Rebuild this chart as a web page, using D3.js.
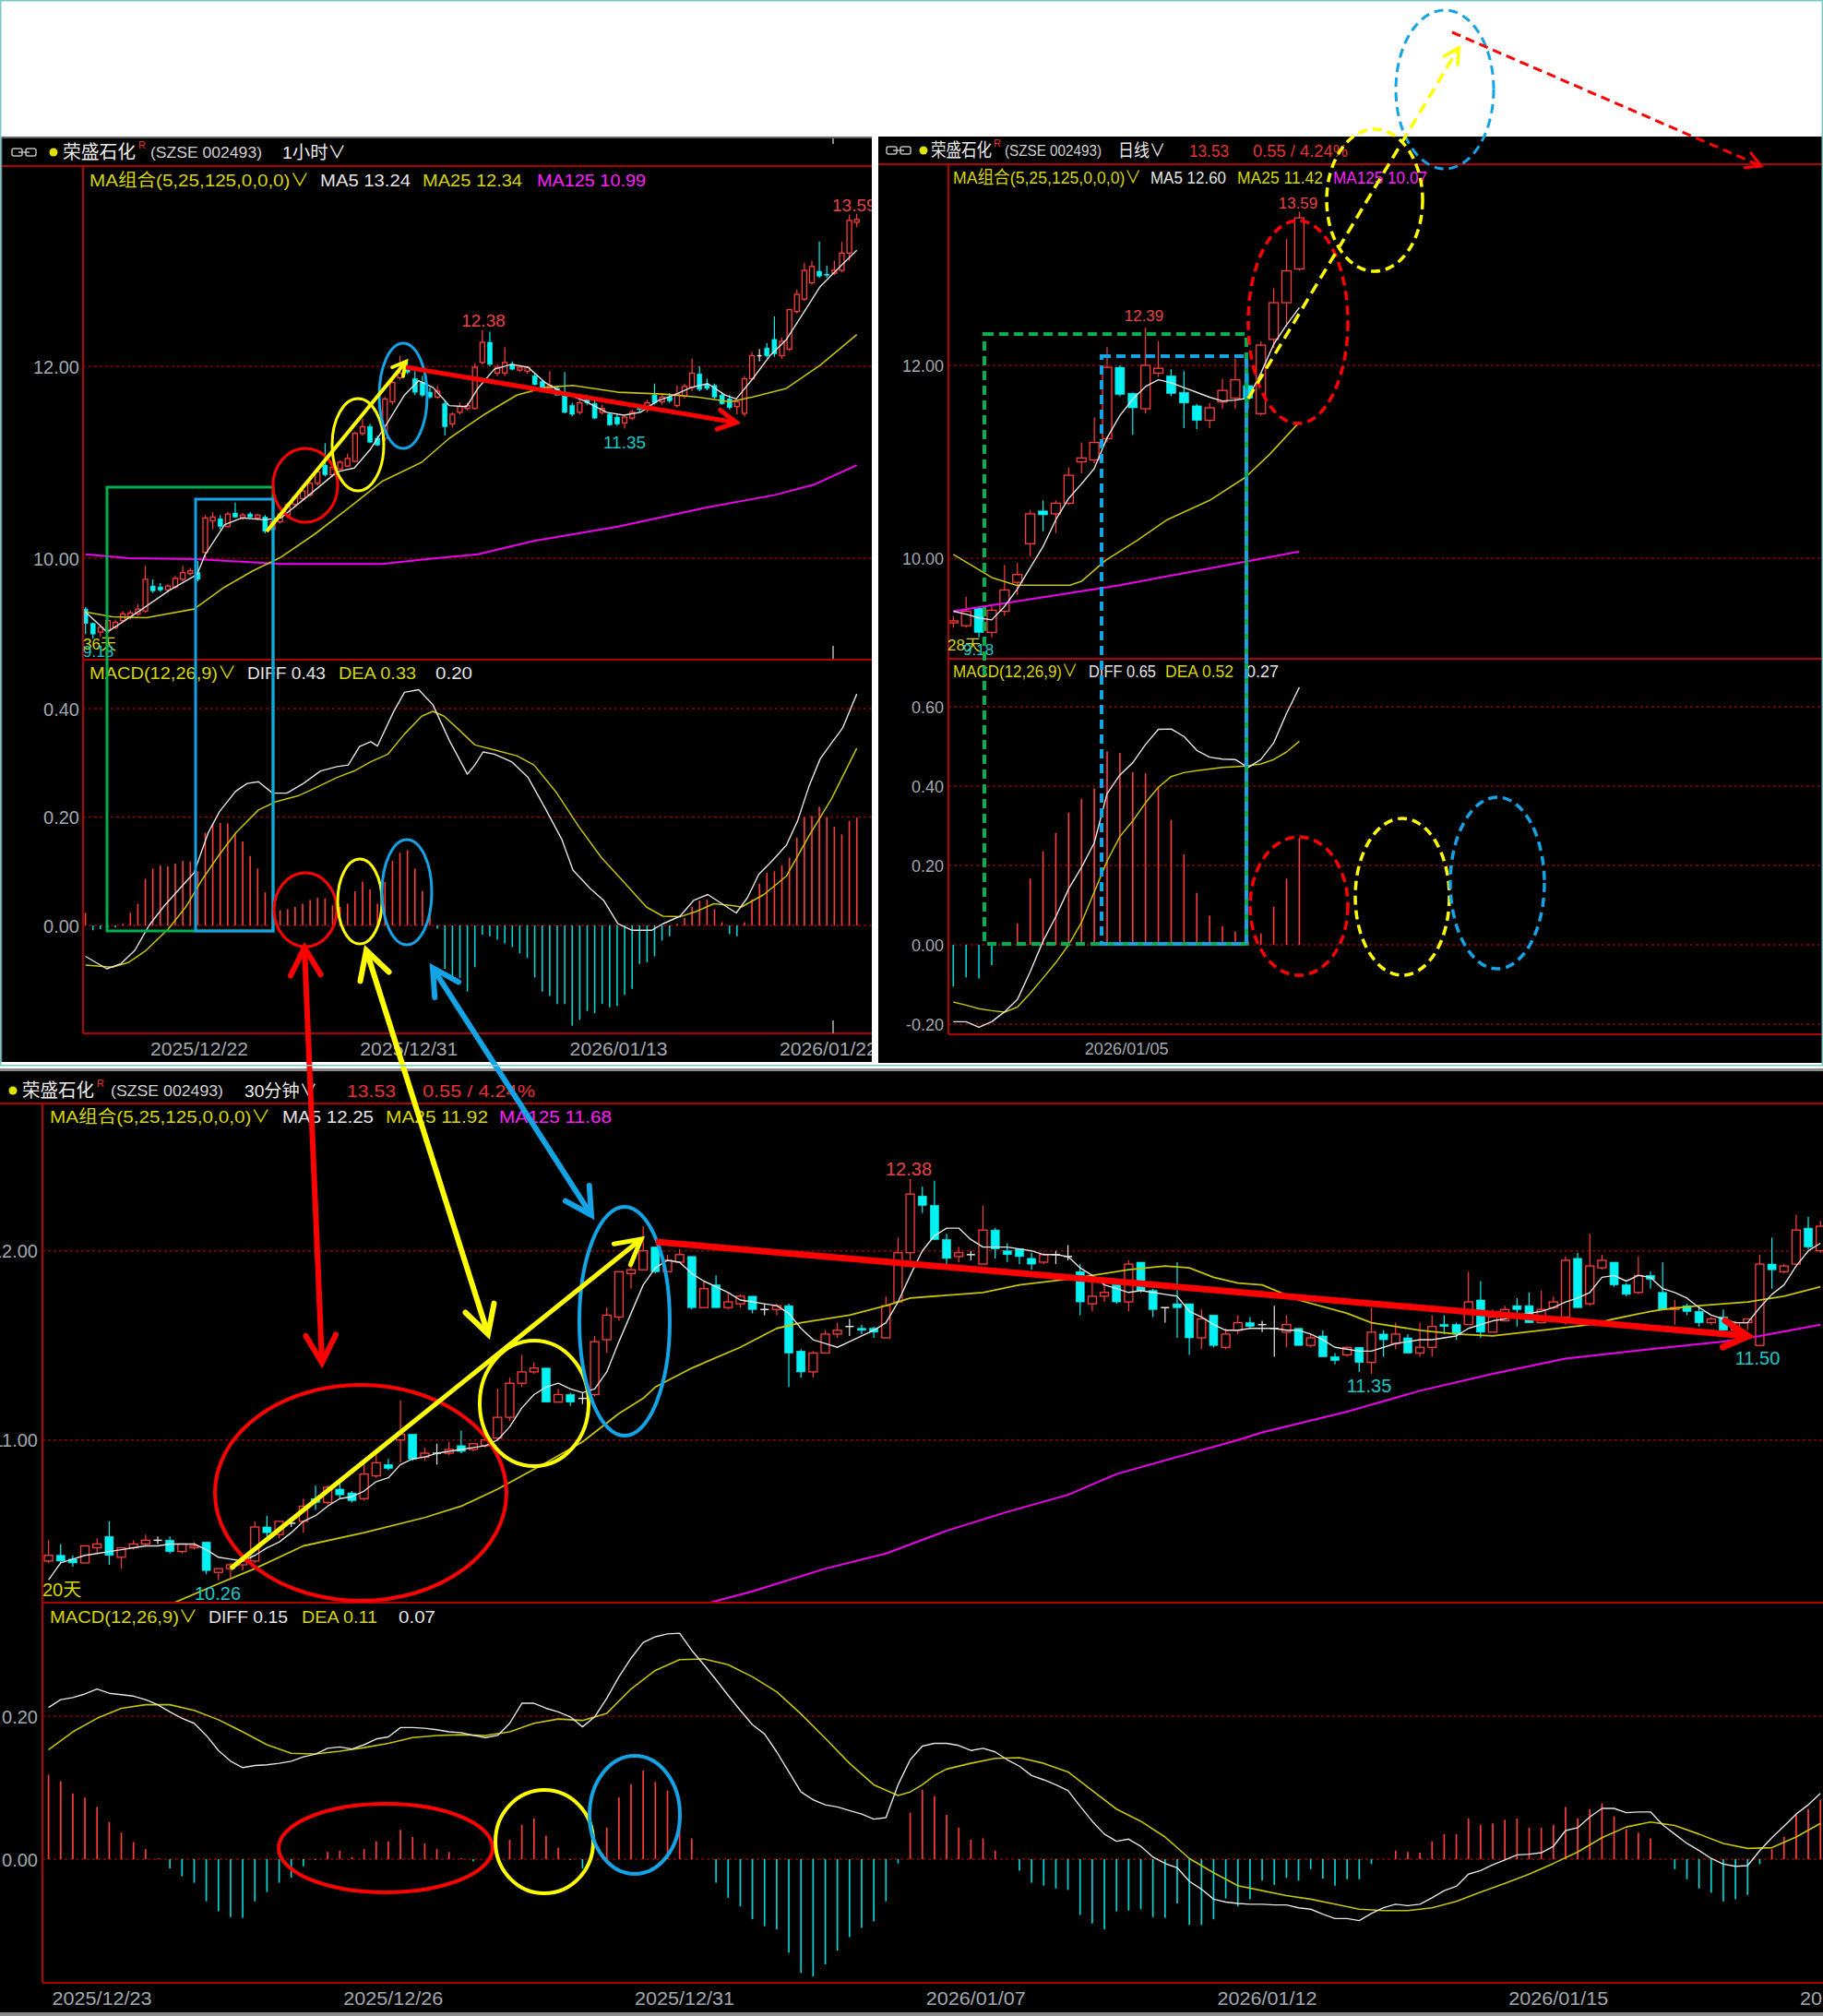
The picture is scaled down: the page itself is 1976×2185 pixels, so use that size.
<!DOCTYPE html>
<html><head><meta charset="utf-8">
<script src="https://cdn.jsdelivr.net/npm/d3@7"></script>
<style>body{margin:0;background:#fff}svg{display:block}</style>
</head><body><script>
// ================= DATA =================
// ---- 1-hour chart (top-left) : [open, high, low, close]
const h1Candles = [
[9.47,9.49,9.21,9.32],[9.32,9.33,9.16,9.21],[9.23,9.30,9.18,9.28],[9.25,9.37,9.22,9.35],[9.28,9.36,9.26,9.33],
[9.35,9.45,9.33,9.42],[9.38,9.46,9.36,9.43],[9.42,9.52,9.40,9.47],[9.45,9.92,9.43,9.78],[9.71,9.78,9.64,9.66],
[9.70,9.74,9.65,9.67],[9.67,9.73,9.64,9.71],[9.70,9.82,9.68,9.79],[9.78,9.92,9.76,9.85],[9.84,9.90,9.82,9.87],
[9.85,9.97,9.76,9.78],[10.06,10.45,10.00,10.42],[10.39,10.48,10.30,10.43],[10.41,10.45,10.30,10.33],[10.33,10.48,10.32,10.46],
[10.47,10.58,10.42,10.43],[10.42,10.47,10.40,10.45],[10.46,10.48,10.42,10.43],[10.42,10.46,10.40,10.45],[10.43,10.45,10.26,10.28],
[10.30,10.40,10.27,10.38],[10.38,10.48,10.36,10.46],[10.45,10.58,10.44,10.56],[10.56,10.66,10.54,10.64],[10.62,10.72,10.60,10.70],
[10.66,10.80,10.64,10.78],[10.78,10.93,10.76,10.90],[10.97,11.20,10.85,10.87],[10.87,10.97,10.85,10.95],[10.93,11.02,10.92,11.00],
[10.96,11.09,10.95,11.04],[11.01,11.32,11.00,11.30],[11.30,11.45,11.28,11.37],[11.37,11.40,11.20,11.21],[11.25,11.28,11.17,11.18],
[11.25,11.68,11.22,11.66],[11.63,11.85,11.60,11.83],[11.88,12.11,11.86,11.93],[11.99,12.05,11.92,11.94],[11.87,11.95,11.70,11.73],
[11.83,11.90,11.68,11.70],[11.73,11.78,11.66,11.68],[11.68,11.80,11.66,11.74],[11.61,11.65,11.28,11.37],[11.40,11.52,11.36,11.50],
[11.52,11.62,11.50,11.58],[11.56,11.62,11.54,11.59],[11.56,12.03,11.55,11.99],[12.04,12.38,12.02,12.25],[12.25,12.36,12.00,12.02],
[11.93,12.02,11.90,11.99],[11.93,12.20,11.90,12.04],[12.02,12.05,11.96,11.97],[11.96,12.00,11.94,11.99],[11.95,12.00,11.92,11.99],
[11.90,11.93,11.80,11.81],[11.84,11.86,11.76,11.77],[11.77,11.95,11.76,11.80],[11.77,11.80,11.70,11.70],[11.73,11.94,11.51,11.52],
[11.59,11.62,11.48,11.50],[11.52,11.65,11.50,11.62],[11.66,11.70,11.60,11.62],[11.61,11.68,11.45,11.46],[11.52,11.60,11.50,11.56],
[11.50,11.52,11.38,11.39],[11.47,11.50,11.38,11.40],[11.41,11.48,11.35,11.47],[11.46,11.55,11.44,11.52],[11.58,11.60,11.52,11.55],
[11.55,11.65,11.52,11.62],[11.70,11.82,11.60,11.62],[11.63,11.72,11.60,11.68],[11.68,11.72,11.62,11.64],[11.59,11.80,11.57,11.71],
[11.69,11.82,11.66,11.79],[11.78,12.08,11.74,11.93],[11.92,12.00,11.74,11.76],[11.81,11.87,11.75,11.77],[11.80,11.82,11.66,11.68],
[11.70,11.73,11.60,11.61],[11.66,11.70,11.55,11.57],[11.58,11.64,11.50,11.63],[11.51,11.90,11.48,11.87],[11.87,12.15,11.86,12.11],
[12.11,12.18,12.05,12.11],[12.19,12.24,12.09,12.11],[12.28,12.52,12.10,12.13],[12.11,12.30,12.08,12.26],[12.18,12.60,12.16,12.59],
[12.57,12.80,12.55,12.75],[12.70,13.08,12.68,13.00],[12.87,13.10,12.85,13.04],[12.99,13.30,12.92,12.94],[12.96,13.05,12.92,12.95],
[12.97,13.10,12.95,13.00],[13.00,13.30,12.98,13.18],[13.18,13.58,13.10,13.52],[13.50,13.59,13.45,13.53]
];
// [bar, value]
const h1MA5 = [[0,9.44],[2.9,9.23],[7.4,9.46],[11.1,9.66],[14.9,9.83],[16,10.04],[18.6,10.35],[20.9,10.42],[23.9,10.40],[26.1,10.42],[29.9,10.66],[33.6,10.90],[35.9,10.94],[38.1,11.14],[40.4,11.42],[42.6,11.70],[44.5,11.85],[46.4,11.78],[48.6,11.59],[50.9,11.58],[52.4,11.77],[54.6,11.97],[56.9,12.02],[59.1,11.99],[61.4,11.83],[63.6,11.73],[66.6,11.64],[69.6,11.52],[71.9,11.49],[74.1,11.52],[76.4,11.64],[78.6,11.70],[80.9,11.78],[83.1,11.82],[85.4,11.70],[86.9,11.66],[89.1,11.87],[91.4,12.11],[93.6,12.28],[95.9,12.56],[98.1,12.83],[100.4,13.01],[103,13.21]];
const h1MA25 = [[0,9.44],[3.6,9.39],[8.1,9.38],[14.5,9.47],[18.6,9.70],[22.4,9.87],[26.1,10.01],[30.6,10.25],[35.1,10.52],[39.6,10.80],[44.9,11.00],[48.6,11.25],[53.1,11.49],[57.6,11.70],[61.4,11.78],[65.1,11.80],[71.1,11.73],[77.1,11.71],[81.6,11.68],[86.1,11.63],[89.1,11.68],[93.6,11.77],[98.1,12.01],[103,12.33]];
const h1MA125 = [[0,10.04],[5.8,10.00],[14.9,9.99],[26.1,9.94],[39.6,9.94],[45.6,9.99],[52.4,10.04],[59.9,10.18],[71.1,10.33],[82.4,10.52],[92.1,10.66],[97.4,10.77],[103,10.97]];
const h1Hist = [
0.023,-0.009,-0.007,-0.003,-0.004,0.003,0.023,0.040,0.086,0.105,
0.111,0.109,0.114,0.119,0.118,0.100,0.171,0.188,0.189,0.188,
0.171,0.155,0.128,0.105,0.061,0.034,0.028,0.030,0.034,0.040,
0.047,0.051,0.050,0.037,0.034,0.040,0.063,0.081,0.067,0.040,
0.080,0.119,0.134,0.139,0.105,0.064,0.020,-0.006,-0.080,-0.100,
-0.097,-0.122,-0.077,-0.017,-0.020,-0.026,-0.033,-0.040,-0.051,-0.060,
-0.096,-0.122,-0.130,-0.145,-0.145,-0.185,-0.174,-0.158,-0.162,-0.145,
-0.151,-0.148,-0.128,-0.117,-0.071,-0.068,-0.057,-0.028,-0.020,0.003,
0.014,0.034,0.046,0.047,0.030,0.006,-0.016,-0.020,0.006,0.048,
0.077,0.097,0.100,0.111,0.125,0.162,0.199,0.202,0.219,0.199,
0.182,0.168,0.193,0.199];
const h1Diff = [[0,-0.057],[2.85,-0.08],[4.7,-0.071],[6.6,-0.046],[8.5,0],[10.4,0.034],[12.6,0.068],[14.5,0.097],[16.4,0.171],[17.9,0.21],[20.1,0.248],[21.6,0.262],[23.1,0.265],[25,0.244],[26.9,0.244],[29.1,0.262],[31.4,0.285],[33.6,0.293],[35.1,0.296],[36.6,0.33],[38.1,0.339],[39,0.331],[41.1,0.393],[42.6,0.43],[44.5,0.435],[46.4,0.407],[48.6,0.341],[51,0.279],[52,0.296],[53.1,0.32],[54.6,0.316],[56.9,0.302],[59.1,0.273],[61.4,0.216],[63.6,0.159],[65.1,0.102],[67.4,0.068],[69.2,0.046],[71.1,0.003],[73,-0.009],[75.6,-0.009],[77.1,0.003],[79.4,0.017],[81.2,0.046],[83.1,0.057],[85,0.04],[86.9,0.023],[88.4,0.051],[89.9,0.094],[91.7,0.119],[93.6,0.148],[95.1,0.193],[96.6,0.256],[98.1,0.307],[99.6,0.336],[101.1,0.364],[103,0.427]];
const h1Dea = [[0,-0.073],[3.6,-0.077],[5.8,-0.068],[8.1,-0.046],[11.1,-0.006],[13.4,0.034],[15.6,0.085],[17.9,0.131],[20.1,0.171],[23.1,0.213],[25.4,0.228],[28.4,0.239],[30.6,0.253],[33.6,0.273],[35.9,0.285],[38.1,0.302],[40.4,0.316],[42.6,0.353],[44.9,0.386],[46.4,0.395],[47.9,0.386],[50.1,0.358],[52,0.333],[54.6,0.324],[57.6,0.313],[59.9,0.296],[62.9,0.245],[65.9,0.182],[68.9,0.125],[71.9,0.08],[74.9,0.034],[77.1,0.017],[79.4,0.016],[81.6,0.026],[83.9,0.04],[86.1,0.037],[87.6,0.034],[90.6,0.057],[93.6,0.091],[96.6,0.165],[99.6,0.233],[103,0.327]];
const h1TickIdx = [8, 36, 64, 92];
const h1TickLabels = ['2025/12/22', '2025/12/31', '2026/01/13', '2026/01/22'];
const h1PriceTicks = [10, 12];
const h1MacdTicks = [0, 0.2, 0.4];

// ---- Daily chart (top-right)
const dCandles = [
[9.33,9.40,9.28,9.35],[9.30,9.60,9.28,9.45],[9.48,9.50,9.18,9.23],[9.23,9.50,9.18,9.46],[9.45,9.93,9.40,9.67],
[9.75,9.95,9.62,9.83],[10.15,10.50,10.02,10.46],[10.49,10.60,10.28,10.45],[10.46,10.60,10.26,10.57],[10.57,10.94,10.55,10.86],
[11.00,11.20,10.88,11.04],[11.02,11.46,10.98,11.20],[11.24,12.19,11.20,11.98],[11.98,12.00,11.68,11.70],[11.71,11.72,11.28,11.56],
[11.55,12.39,11.50,12.00],[11.92,12.25,11.88,11.97],[11.89,11.96,11.68,11.71],[11.72,11.94,11.35,11.61],[11.58,11.60,11.34,11.43],
[11.43,11.61,11.35,11.56],[11.62,11.86,11.55,11.74],[11.66,12.07,11.55,11.85],[11.79,11.92,11.55,11.66],[11.50,12.25,11.48,12.21],
[12.27,12.80,12.18,12.65],[12.65,13.31,12.40,12.98],[13.00,13.59,12.98,13.53]
];
const dMA5 = [9.45,9.42,9.38,9.36,9.50,9.68,9.90,10.12,10.40,10.62,10.77,10.93,11.25,11.48,11.65,11.78,11.85,11.82,11.77,11.72,11.67,11.63,11.64,11.66,11.92,12.22,12.42,12.60];
const dMA25 = [[0,10.04],[3,9.80],[4.9,9.72],[9.1,9.72],[10,9.76],[11.9,9.98],[14.3,10.18],[16.7,10.40],[20,10.60],[22.8,10.84],[24.7,11.08],[27,11.41]];
const dMA125 = [[0,9.45],[13,9.72],[27,10.07]];
const dHist = [-0.105,-0.082,-0.085,-0.051,0,0.054,0.167,0.236,0.282,0.333,0.368,0.394,0.487,0.484,0.435,0.432,0.399,0.315,0.228,0.131,0.074,0.047,0.034,0.010,0.029,0.096,0.167,0.269];
const dDiff = [-0.194,-0.194,-0.208,-0.194,-0.169,-0.138,-0.068,0.009,0.071,0.141,0.195,0.257,0.381,0.428,0.459,0.505,0.543,0.544,0.525,0.490,0.473,0.468,0.467,0.447,0.467,0.509,0.583,0.649];
const dDea = [-0.144,-0.152,-0.161,-0.166,-0.170,-0.157,-0.122,-0.084,-0.045,0.000,0.056,0.133,0.211,0.273,0.312,0.358,0.397,0.424,0.434,0.439,0.443,0.447,0.449,0.451,0.456,0.467,0.486,0.513];
const dTickIdx = [10];
const dTickLabels = ['2026/01/05'];
const dPriceTicks = [10, 12];
const dMacdTicks = [-0.2, 0, 0.2, 0.4, 0.6];

// ---- 30-minute chart (bottom)
const m30Candles = [
[10.36,10.47,10.35,10.39],[10.39,10.45,10.35,10.36],[10.37,10.39,10.33,10.35],[10.35,10.44,10.35,10.44],[10.43,10.48,10.40,10.45],
[10.49,10.57,10.34,10.39],[10.38,10.43,10.32,10.43],[10.43,10.47,10.42,10.45],[10.45,10.50,10.44,10.47],[10.47,10.49,10.45,10.47],
[10.47,10.49,10.40,10.41],[10.41,10.45,10.40,10.45],[10.43,10.46,10.42,10.44],[10.46,10.46,10.29,10.31],[10.30,10.32,10.26,10.32],
[10.32,10.35,10.27,10.34],[10.34,10.37,10.31,10.36],[10.36,10.57,10.35,10.54],[10.54,10.60,10.49,10.51],[10.50,10.57,10.48,10.57],
[10.56,10.57,10.54,10.56],[10.57,10.69,10.51,10.65],[10.69,10.76,10.63,10.67],[10.67,10.76,10.66,10.75],[10.74,10.77,10.69,10.71],
[10.72,10.73,10.67,10.68],[10.69,10.87,10.68,10.82],[10.81,10.92,10.80,10.88],[10.87,10.90,10.84,10.85],[11.00,11.21,10.88,11.03],
[11.03,11.03,10.89,10.90],[10.91,10.96,10.89,10.93],[10.93,10.98,10.87,10.93],[10.93,10.99,10.92,10.95],[10.97,11.05,10.93,10.94],
[10.95,10.98,10.94,10.98],[10.97,11.01,10.96,11.00],[11.01,11.27,11.00,11.12],[11.12,11.33,11.10,11.30],[11.30,11.45,11.28,11.36],
[11.36,11.41,11.35,11.38],[11.38,11.38,11.20,11.20],[11.20,11.27,11.20,11.24],[11.24,11.25,11.18,11.20],[11.22,11.25,11.19,11.22],
[11.24,11.55,11.23,11.52],[11.53,11.70,11.46,11.66],[11.65,11.89,11.63,11.89],[11.88,11.94,11.80,11.90],[11.90,12.13,11.90,12.00],
[12.02,12.02,11.88,11.89],[11.89,11.98,11.89,11.95],[11.94,12.01,11.94,11.98],[11.97,11.97,11.69,11.70],[11.70,11.84,11.70,11.80],
[11.82,11.87,11.70,11.70],[11.70,11.78,11.69,11.73],[11.72,11.77,11.70,11.76],[11.76,11.76,11.67,11.69],[11.69,11.72,11.66,11.69],
[11.69,11.72,11.66,11.71],[11.71,11.72,11.28,11.46],[11.47,11.48,11.33,11.36],[11.36,11.47,11.33,11.46],[11.46,11.58,11.46,11.56],
[11.56,11.62,11.54,11.58],[11.60,11.64,11.55,11.60],[11.59,11.61,11.56,11.58],[11.59,11.60,11.54,11.57],[11.54,11.76,11.54,11.71],
[11.73,12.07,11.73,11.99],[11.99,12.38,11.95,12.30],[12.29,12.34,12.20,12.24],[12.24,12.37,12.06,12.06],[12.06,12.09,11.93,11.96],
[11.97,12.02,11.94,11.99],[11.98,12.00,11.95,11.98],[11.93,12.24,11.93,12.11],[12.11,12.12,11.96,12.01],[12.00,12.04,11.94,11.98],
[12.01,12.01,11.93,11.97],[11.96,11.99,11.90,11.93],[11.94,11.99,11.93,11.98],[11.98,12.00,11.93,11.98],[11.97,12.03,11.95,11.97],
[11.89,11.93,11.66,11.73],[11.72,11.84,11.68,11.76],[11.76,11.83,11.73,11.78],[11.82,11.82,11.72,11.73],[11.73,11.95,11.68,11.93],
[11.94,11.94,11.78,11.79],[11.79,11.80,11.65,11.69],[11.70,11.70,11.62,11.70],[11.72,11.94,11.54,11.70],[11.72,11.72,11.45,11.54],
[11.54,11.69,11.48,11.64],[11.66,11.66,11.49,11.50],[11.49,11.59,11.48,11.56],[11.58,11.66,11.56,11.62],[11.62,11.65,11.59,11.60],
[11.61,11.63,11.57,11.61],[11.59,11.71,11.44,11.59],[11.57,11.66,11.49,11.61],[11.59,11.59,11.50,11.50],[11.50,11.56,11.49,11.54],
[11.55,11.58,11.44,11.44],[11.44,11.46,11.40,11.42],[11.45,11.49,11.44,11.49],[11.49,11.49,11.36,11.41],[11.41,11.70,11.35,11.57],
[11.56,11.58,11.44,11.53],[11.51,11.62,11.48,11.56],[11.54,11.56,11.46,11.46],[11.46,11.62,11.44,11.49],[11.49,11.66,11.44,11.60],
[11.61,11.66,11.56,11.60],[11.61,11.62,11.53,11.56],[11.61,11.89,11.61,11.73],[11.74,11.84,11.54,11.57],[11.57,11.69,11.57,11.65],
[11.63,11.71,11.63,11.69],[11.71,11.75,11.60,11.69],[11.71,11.78,11.62,11.62],[11.62,11.79,11.62,11.69],[11.70,11.76,11.69,11.73],
[11.65,11.97,11.61,11.95],[11.96,11.99,11.70,11.70],[11.72,12.09,11.71,11.92],[11.91,11.98,11.90,11.95],[11.94,11.94,11.81,11.82],
[11.82,11.83,11.76,11.77],[11.78,11.97,11.77,11.87],[11.87,11.89,11.80,11.85],[11.78,11.94,11.69,11.69],[11.69,11.74,11.61,11.70],
[11.71,11.72,11.66,11.68],[11.68,11.71,11.60,11.62],[11.62,11.65,11.61,11.64],[11.65,11.69,11.58,11.58],[11.58,11.63,11.56,11.62],
[11.62,11.64,11.58,11.64],[11.50,11.98,11.50,11.93],[11.93,12.07,11.80,11.90],[11.89,11.93,11.88,11.92],[11.93,12.19,11.93,12.11],
[12.12,12.18,12.01,12.02],[12.00,12.16,11.99,12.13]
];
const m30MA5 = [
10.26,10.35,10.37,10.39,10.40,10.41,10.42,10.43,10.44,10.44,
10.45,10.45,10.45,10.42,10.38,10.37,10.36,10.39,10.43,10.46,
10.51,10.57,10.60,10.65,10.69,10.70,10.73,10.78,10.80,10.87,
10.90,10.91,10.93,10.94,10.95,10.96,10.97,11.00,11.07,11.17,
11.24,11.28,11.30,11.27,11.25,11.27,11.36,11.52,11.67,11.82,
11.91,11.95,11.94,11.88,11.84,11.81,11.78,11.74,11.73,11.72,
11.71,11.67,11.59,11.53,11.51,11.49,11.52,11.55,11.58,11.62,
11.73,11.87,12.00,12.08,12.12,12.12,12.06,12.02,12.02,12.02,
12.01,12.00,11.98,11.98,11.97,11.91,11.87,11.82,11.80,11.78,
11.79,11.78,11.77,11.76,11.68,11.65,11.61,11.58,11.58,11.59,
11.59,11.59,11.58,11.58,11.56,11.53,11.49,11.48,11.47,11.47,
11.49,11.51,11.52,11.53,11.53,11.54,11.55,11.59,11.61,11.63,
11.64,11.66,11.67,11.68,11.70,11.73,11.75,11.78,11.86,11.87,
11.84,11.87,11.86,11.80,11.78,11.75,11.70,11.66,11.64,11.62,
11.62,11.70,11.77,11.82,11.92,12.00,12.04];
const m30MA25 = [[10,10.13],[14,10.24],[17,10.32],[21,10.44],[26,10.51],[31,10.59],[34,10.65],[37,10.74],[41,10.88],[44,10.99],[47,11.14],[49,11.22],[50,11.28],[53,11.38],[57,11.49],[60,11.59],[62,11.62],[66,11.66],[69,11.71],[71,11.75],[75,11.77],[77,11.78],[80,11.82],[84,11.85],[86,11.87],[89,11.90],[92,11.92],[94,11.91],[96,11.86],[98,11.83],[100,11.82],[103,11.74],[107,11.67],[109,11.62],[113,11.58],[116,11.56],[119,11.55],[123,11.58],[127,11.61],[129,11.64],[132,11.68],[133,11.69],[136,11.71],[140,11.73],[143,11.76],[146,11.81]];
const m30MA125 = [[54.5,10.14],[58,10.20],[64,10.32],[69,10.40],[74,10.52],[79,10.62],[84,10.71],[88,10.82],[93,10.91],[98,11.00],[100,11.04],[107,11.15],[113,11.26],[119,11.35],[125,11.43],[132,11.48],[138,11.52],[141,11.55],[146,11.61]];
const m30Hist = [
0.118,0.109,0.092,0.086,0.073,0.052,0.037,0.024,0.014,0.001,
-0.013,-0.024,-0.033,-0.059,-0.073,-0.081,-0.082,-0.059,-0.046,-0.033,
-0.026,-0.010,-0.001,0.010,0.012,0.003,0.014,0.025,0.025,0.041,
0.031,0.022,0.014,0.010,0.001,-0.003,0.000,0.000,0.027,0.048,
0.057,0.033,0.016,-0.001,-0.013,0.000,0.044,0.086,0.105,0.124,
0.108,0.096,0.078,0.029,0.000,-0.033,-0.054,-0.066,-0.084,-0.094,
-0.098,-0.131,-0.159,-0.164,-0.147,-0.128,-0.109,-0.096,-0.087,-0.059,
-0.006,0.065,0.097,0.088,0.062,0.044,0.027,0.029,0.012,0.000,
-0.016,-0.033,-0.037,-0.041,-0.043,-0.078,-0.090,-0.098,-0.073,-0.072,
-0.070,-0.081,-0.082,-0.062,-0.092,-0.092,-0.084,-0.055,-0.066,-0.056,
-0.030,-0.036,-0.026,-0.030,-0.014,-0.027,-0.037,-0.028,-0.028,-0.007,
0.000,0.012,0.010,0.009,0.025,0.035,0.035,0.057,0.048,0.050,
0.055,0.057,0.044,0.044,0.048,0.073,0.057,0.070,0.078,0.060,
0.042,0.037,0.029,0.000,-0.014,-0.028,-0.041,-0.047,-0.059,-0.056,
-0.050,-0.007,0.014,0.031,0.062,0.070,0.083];
const m30Diff = [
0.212,0.223,0.226,0.231,0.238,0.232,0.230,0.228,0.223,0.216,
0.206,0.197,0.190,0.173,0.152,0.137,0.128,0.131,0.132,0.134,
0.137,0.143,0.147,0.155,0.157,0.154,0.160,0.168,0.171,0.184,
0.184,0.183,0.181,0.178,0.177,0.173,0.170,0.173,0.190,0.218,
0.218,0.211,0.206,0.199,0.185,0.199,0.225,0.255,0.281,0.303,
0.311,0.315,0.316,0.292,0.272,0.251,0.229,0.208,0.188,0.175,
0.150,0.122,0.094,0.083,0.076,0.073,0.068,0.063,0.056,0.058,
0.104,0.139,0.158,0.162,0.162,0.159,0.152,0.155,0.150,0.139,
0.130,0.117,0.111,0.104,0.096,0.074,0.053,0.035,0.025,0.028,
0.018,0.003,-0.006,-0.012,-0.031,-0.042,-0.056,-0.060,-0.062,-0.063,
-0.063,-0.064,-0.064,-0.068,-0.070,-0.077,-0.083,-0.083,-0.086,-0.076,
-0.068,-0.063,-0.065,-0.063,-0.054,-0.044,-0.038,-0.021,-0.016,-0.008,
-0.001,0.006,0.007,0.009,0.018,0.040,0.044,0.059,0.071,0.071,
0.065,0.066,0.066,0.048,0.035,0.022,0.012,0.001,-0.007,-0.010,
-0.009,0.012,0.030,0.046,0.063,0.076,0.092];
const m30Dea = [[0,0.153],[2,0.178],[4,0.197],[6,0.211],[8,0.216],[10,0.216],[12,0.208],[14,0.195],[16,0.178],[18,0.160],[20,0.148],[22,0.147],[24,0.151],[26,0.156],[28,0.162],[30,0.170],[32,0.173],[34,0.174],[36,0.173],[38,0.178],[40,0.190],[42,0.196],[44,0.194],[46,0.204],[48,0.238],[50,0.264],[52,0.279],[54,0.280],[56,0.272],[58,0.255],[60,0.234],[62,0.203],[64,0.169],[66,0.134],[68,0.104],[70,0.089],[71,0.094],[72,0.104],[73,0.117],[74,0.126],[76,0.134],[78,0.141],[80,0.142],[82,0.134],[84,0.122],[86,0.096],[88,0.070],[90,0.053],[92,0.031],[94,0.001],[96,-0.019],[98,-0.037],[100,-0.044],[102,-0.051],[104,-0.056],[106,-0.063],[108,-0.070],[110,-0.072],[112,-0.072],[114,-0.068],[116,-0.059],[118,-0.046],[120,-0.034],[122,-0.021],[124,-0.006],[126,0.010],[128,0.030],[130,0.045],[132,0.052],[134,0.047],[136,0.035],[138,0.022],[140,0.015],[142,0.016],[144,0.031],[146,0.050]];
const m30TickIdx = [0, 24, 48, 72, 96, 120, 144];
const m30TickLabels = ['2025/12/23', '2025/12/26', '2025/12/31', '2026/01/07', '2026/01/12', '2026/01/15', '2026/01/20'];
const m30PriceTicks = [11, 12];
const m30MacdTicks = [0, 0.2];

// ================= STYLE =================
const W = 1976, H = 2185;
const FONT = "'Liberation Sans', Arial, 'Noto Sans CJK SC', sans-serif";
const RED = '#ff3c3c', CYAN = '#00f2f2', CYANBAR = '#00d4d4', WHITE = '#e4e4e4', OLIVE = '#c4c400',
      MAG = '#ee00ee', GRID = '#8c0000', BORDER = '#b00000', AXT = '#a2a8ae',
      LEGY = '#d6d600', LEGM = '#ff20ff', HRED = '#e83232', LBLR = '#e84444', LBLC = '#1cc8c8',
      YEL = '#ffff00', BLUE = '#14a4e6', GREEN = '#00b050', ARED = '#ff0000';

const svg = d3.select('body').append('svg').attr('width', W).attr('height', H);
const defs = svg.append('defs');
svg.append('rect').attr('width', W).attr('height', H).attr('fill', '#fff');

function clip(id, x, y, w, h) {
  defs.append('clipPath').attr('id', id).append('rect').attr('x', x).attr('y', y).attr('width', w).attr('height', h);
  return `url(#${id})`;
}
function T(g, x, y, s, fill, size, len, anchor) {
  const t = g.append('text').attr('x', x).attr('y', y).attr('fill', fill).attr('font-size', size)
    .attr('font-family', FONT).attr('dominant-baseline', 'central').text(s);
  if (len) t.attr('textLength', len).attr('lengthAdjust', 'spacingAndGlyphs');
  if (anchor) t.attr('text-anchor', anchor);
  return t;
}
function hline(g, y, x1, x2, col, w, dash) {
  const l = g.append('line').attr('x1', x1).attr('x2', x2).attr('y1', y).attr('y2', y).attr('stroke', col).attr('stroke-width', w);
  if (dash) l.attr('stroke-dasharray', dash);
  return l;
}
function vline(g, x, y1, y2, col, w) {
  return g.append('line').attr('x1', x).attr('x2', x).attr('y1', y1).attr('y2', y2).attr('stroke', col).attr('stroke-width', w);
}
function candles(g, data, x, y, bw) {
  g.append('g').selectAll('g').data(data).join('g').each(function (d, i) {
    const [o, h, l, c] = d;
    const cx = x(i);
    const up = c > o + 0.004, down = c < o - 0.004;
    const col = up ? RED : (down ? CYAN : WHITE);
    const s = d3.select(this);
    vline(s, cx, y(h), y(l), col, 1.2);
    if (up || down) {
      const top = y(Math.max(o, c)), bot = y(Math.min(o, c));
      s.append('rect').attr('x', cx - bw / 2).attr('y', top).attr('width', bw)
        .attr('height', Math.max(1.2, bot - top))
        .attr('fill', up ? '#000' : CYAN).attr('stroke', col).attr('stroke-width', up ? 1.3 : 0.6);
    } else {
      hline(s, y(c), cx - bw / 2, cx + bw / 2, col, 1.5);
    }
  });
}
function series(g, pts, x, y, col, w) {
  g.append('path').datum(pts).attr('d', d3.line().x(d => x(d[0])).y(d => y(d[1])))
    .attr('fill', 'none').attr('stroke', col).attr('stroke-width', w).attr('stroke-linejoin', 'round');
}
const idxPts = arr => arr.map((v, i) => [i, v]);
function hist(g, data, x, y, w) {
  g.append('g').selectAll('line').data(data).join('line')
    .attr('x1', (d, i) => x(i)).attr('x2', (d, i) => x(i))
    .attr('y1', y(0)).attr('y2', d => y(d))
    .attr('stroke', d => d >= 0 ? RED : CYANBAR).attr('stroke-width', w);
}
function yLabels(g, y, ticks, xr, size) {
  const ax = d3.axisLeft(y).tickValues(ticks).tickFormat(d => d.toFixed(2)).tickSize(0).tickPadding(0);
  const a = g.append('g').attr('transform', `translate(${xr},0)`).call(ax);
  a.select('.domain').remove();
  a.selectAll('text').attr('fill', AXT).attr('font-size', size).attr('font-family', FONT).attr('dy', '0.35em');
}
function xLabels(g, x, idx, labels, yc, dx, size, len) {
  const ax = d3.axisBottom(x).tickValues(idx).tickFormat((d, i) => labels[i]).tickSize(0).tickPadding(0);
  const a = g.append('g').attr('transform', `translate(0,${yc})`).call(ax);
  a.select('.domain').remove();
  a.selectAll('text').attr('fill', AXT).attr('font-size', size).attr('font-family', FONT)
    .attr('text-anchor', 'start').attr('x', dx).attr('y', 0).attr('dy', '0.35em')
    .attr('textLength', len).attr('lengthAdjust', 'spacingAndGlyphs');
}
function grid(g, vals, y, x1, x2) {
  vals.forEach(v => hline(g, y(v), x1, x2, GRID, 1.6, '3,3'));
}
function ellipse(g, cx, cy, rx, ry, col, w, dash) {
  const e = g.append('ellipse').attr('cx', cx).attr('cy', cy).attr('rx', rx).attr('ry', ry)
    .attr('fill', 'none').attr('stroke', col).attr('stroke-width', w);
  if (dash) e.attr('stroke-dasharray', dash);
}
function head(g, x1, y1, x2, y2, col, w, size) {
  const a = Math.atan2(y2 - y1, x2 - x1), th = 0.5;
  const p1 = [x2 - size * Math.cos(a - th), y2 - size * Math.sin(a - th)];
  const p2 = [x2 - size * Math.cos(a + th), y2 - size * Math.sin(a + th)];
  g.append('path').attr('d', `M${p1}L${x2},${y2}L${p2}`).attr('fill', 'none').attr('stroke', col)
    .attr('stroke-width', w).attr('stroke-linecap', 'round').attr('stroke-linejoin', 'miter');
}
function arrow(g, x1, y1, x2, y2, col, w, size, dash, both) {
  const l = g.append('line').attr('x1', x1).attr('y1', y1).attr('x2', x2).attr('y2', y2)
    .attr('stroke', col).attr('stroke-width', w);
  if (dash) l.attr('stroke-dasharray', dash);
  head(g, x1, y1, x2, y2, col, w, size);
  if (both) head(g, x2, y2, x1, y1, col, w, size);
}
function linkIcon(g, x, y) {
  g.append('rect').attr('x', x).attr('y', y - 4).attr('width', 11).attr('height', 8).attr('rx', 2)
    .attr('fill', 'none').attr('stroke', '#b8b8b8').attr('stroke-width', 1.5);
  g.append('rect').attr('x', x + 15).attr('y', y - 4).attr('width', 11).attr('height', 8).attr('rx', 2)
    .attr('fill', 'none').attr('stroke', '#b8b8b8').attr('stroke-width', 1.5);
  hline(g, y, x + 7, x + 19, '#b8b8b8', 1.5);
}
function header(g, o) {
  if (o.icon !== undefined) linkIcon(g, o.icon, o.y);
  g.append('circle').attr('cx', o.dot).attr('cy', o.y).attr('r', 4.5).attr('fill', '#e0e000');
  T(g, o.name[0], o.y, '荣盛石化', '#ececec', 20, o.name[1]);
  T(g, o.r, o.y - 8, 'R', HRED, 11);
  T(g, o.code[0], o.y, '(SZSE 002493)', '#d0d0d0', 17, o.code[1]);
  T(g, o.per[0], o.y, o.per[2], '#ececec', 19, o.per[1]);
  if (o.px) {
    T(g, o.px[0], o.y, '13.53', HRED, 19, o.px[1]);
    T(g, o.chg[0], o.y, '0.55 / 4.24%', HRED, 19, o.chg[1]);
  }
}
function legend(g, y, items) {
  items.forEach(it => T(g, it[0], y, it[2], it[3], 19, it[1]));
}

// ================= PANEL A : 1 hour =================
{
  const P = { x0: 0, x1: 945, y0: 148, y1: 1151, left: 90, hdr: 180, sep: 715, bot: 1120 };
  const g = svg.append('g').attr('clip-path', clip('pA', P.x0, P.y0, P.x1 - P.x0, P.y1 - P.y0));
  g.append('rect').attr('x', P.x0).attr('y', P.y0).attr('width', P.x1 - P.x0).attr('height', P.y1 - P.y0).attr('fill', '#000');
  const x = d3.scaleLinear().domain([0, h1Candles.length - 1]).range([92.6, 928.7]);
  const yP = d3.scaleLinear().domain([10, 12]).range([605, 397]);
  const yM = d3.scaleLinear().domain([0, 0.4]).range([1003, 768]);
  grid(g, h1PriceTicks, yP, P.left, P.x1);
  grid(g, h1MacdTicks, yM, P.left, P.x1);
  const gp = g.append('g').attr('clip-path', clip('pAp', P.left, P.hdr, P.x1 - P.left, P.sep - P.hdr));
  candles(gp, h1Candles, x, yP, 5);
  series(gp, h1MA125, x, yP, MAG, 2);
  series(gp, h1MA25, x, yP, OLIVE, 1.6);
  series(gp, h1MA5, x, yP, WHITE, 1.4);
  const gm = g.append('g').attr('clip-path', clip('pAm', P.left, P.sep, P.x1 - P.left, P.bot - P.sep));
  hist(gm, h1Hist, x, yM, 1.6);
  series(gm, h1Dea, x, yM, OLIVE, 1.5);
  series(gm, h1Diff, x, yM, WHITE, 1.4);
  // borders
  hline(g, P.hdr, P.x0, P.x1, BORDER, 2);
  hline(g, P.sep, P.left, P.x1, BORDER, 2);
  hline(g, P.bot, P.left, P.x1, BORDER, 2);
  vline(g, P.left, P.hdr, P.bot, BORDER, 2);
  vline(g, 1.5, P.y0, P.y1, '#555', 2);
  vline(g, 903, 148, 156, '#888', 2); vline(g, 903, 700, 714, '#888', 2); vline(g, 903, 1106, 1120, '#888', 2);
  hline(g, P.y0 + 1, P.x0, P.x1, '#666', 2);
  yLabels(g, yP, h1PriceTicks, 86, 20);
  yLabels(g, yM, h1MacdTicks, 86, 20);
  xLabels(g, x, h1TickIdx, h1TickLabels, 1137, 5, 20, 106);
  header(g, { y: 165, icon: 13, dot: 58, name: [68, 79], r: 150, code: [163, 121], per: [306, 69, '1小时∨'] });
  legend(g, 195, [[97, 238, 'MA组合(5,25,125,0,0,0)∨', LEGY], [347, 98, 'MA5 13.24', WHITE], [458, 108, 'MA25 12.34', LEGY], [582, 118, 'MA125 10.99', LEGM]]);
  legend(g, 729, [[97, 159, 'MACD(12,26,9)∨', LEGY], [268, 85, 'DIFF 0.43', WHITE], [367, 84, 'DEA 0.33', LEGY], [472, 40, '0.20', WHITE]]);
  T(g, 524, 347, '12.38', LBLR, 19, null, 'middle');
  T(g, 677, 479, '11.35', LBLC, 19, null, 'middle');
  T(g, 902, 222, '13.59', LBLR, 19);
  T(g, 90, 698, '36天', LEGY, 17);
  T(g, 90, 706, '9.18', LBLC, 17);
  // annotations
  g.append('rect').attr('x', 116).attr('y', 528).attr('width', 180).attr('height', 481)
    .attr('fill', 'none').attr('stroke', GREEN).attr('stroke-width', 3);
  g.append('rect').attr('x', 212).attr('y', 541).attr('width', 84).attr('height', 468)
    .attr('fill', 'none').attr('stroke', BLUE).attr('stroke-width', 3);
  ellipse(g, 331, 526, 35, 40, ARED, 3);
  ellipse(g, 388, 482, 28, 50, YEL, 3);
  ellipse(g, 437, 429, 26, 57, BLUE, 3);
  arrow(g, 289, 576, 440, 392, YEL, 4, 16);
  arrow(g, 440, 398, 798, 458, ARED, 5, 22);
  ellipse(g, 331, 986, 34, 40, ARED, 3);
  ellipse(g, 390, 977, 24, 46, YEL, 3);
  ellipse(g, 441, 967, 27, 57, BLUE, 3);
}

// ================= PANEL B : daily =================
{
  const P = { x0: 952, x1: 1976, y0: 148, y1: 1152, left: 1028, hdr: 178, sep: 714, bot: 1121 };
  const g = svg.append('g').attr('clip-path', clip('pB', P.x0, P.y0, P.x1 - P.x0, P.y1 - P.y0));
  g.append('rect').attr('x', P.x0).attr('y', P.y0).attr('width', P.x1 - P.x0).attr('height', P.y1 - P.y0).attr('fill', '#000');
  const x = d3.scaleLinear().domain([0, dCandles.length - 1]).range([1033.3, 1408.4]);
  const yP = d3.scaleLinear().domain([10, 12]).range([605, 396]);
  const yM = d3.scaleLinear().domain([0, 0.6]).range([1024, 766]);
  grid(g, dPriceTicks, yP, P.left, P.x1);
  grid(g, dMacdTicks, yM, P.left, P.x1);
  const gp = g.append('g').attr('clip-path', clip('pBp', P.left, P.hdr, P.x1 - P.left, P.sep - P.hdr));
  candles(gp, dCandles, x, yP, 10);
  series(gp, dMA125, x, yP, MAG, 2);
  series(gp, dMA25, x, yP, OLIVE, 1.6);
  series(gp, idxPts(dMA5), x, yP, WHITE, 1.4);
  const gm = g.append('g').attr('clip-path', clip('pBm', P.left, P.sep, P.x1 - P.left, P.bot - P.sep));
  hist(gm, dHist, x, yM, 1.6);
  series(gm, idxPts(dDea), x, yM, OLIVE, 1.5);
  series(gm, idxPts(dDiff), x, yM, WHITE, 1.4);
  hline(g, P.hdr, P.x0, P.x1, BORDER, 2);
  hline(g, P.sep, P.left, P.x1, BORDER, 2);
  hline(g, P.bot, P.left, P.x1, BORDER, 2);
  vline(g, P.left, P.hdr, P.bot, BORDER, 2);
  yLabels(g, yP, dPriceTicks, 1023, 18);
  yLabels(g, yM, dMacdTicks, 1023, 18);
  xLabels(g, x, dTickIdx, dTickLabels, 1137, 3, 18, 91);
  header(g, { y: 163, icon: 961, dot: 1001, name: [1009, 66], r: 1077, code: [1089, 105], per: [1212, 51, '日线∨'], px: [1289, 43], chg: [1358, 103] });
  legend(g, 192, [[1033, 204, 'MA组合(5,25,125,0,0,0)∨', LEGY], [1247, 82, 'MA5 12.60', WHITE], [1341, 93, 'MA25 11.42', LEGY], [1445, 102, 'MA125 10.07', LEGM]]);
  legend(g, 727, [[1033, 135, 'MACD(12,26,9)∨', LEGY], [1180, 73, 'DIFF 0.65', WHITE], [1263, 74, 'DEA 0.52', LEGY], [1351, 35, '0.27', WHITE]]);
  T(g, 1240, 342, '12.39', LBLR, 17, null, 'middle');
  T(g, 1407, 220, '13.59', LBLR, 17, null, 'middle');
  T(g, 1027, 699, '28天', LEGY, 17);
  T(g, 1044, 704, '9.18', LBLC, 17);
}
// daily annotations (can leave the panel)
{
  const g = svg.append('g');
  g.append('rect').attr('x', 1067).attr('y', 362).attr('width', 284).attr('height', 661)
    .attr('fill', 'none').attr('stroke', GREEN).attr('stroke-width', 4).attr('stroke-dasharray', '10,6');
  g.append('rect').attr('x', 1194).attr('y', 386).attr('width', 157).attr('height', 637)
    .attr('fill', 'none').attr('stroke', BLUE).attr('stroke-width', 4).attr('stroke-dasharray', '10,6');
  ellipse(g, 1407, 349, 54, 110, ARED, 3.5, '10,6');
  ellipse(g, 1490, 217, 52, 77, YEL, 3.5, '10,6');
  ellipse(g, 1566, 97, 53, 86, BLUE, 3, '10,6');
  ellipse(g, 1408, 982, 53, 75, ARED, 3.5, '10,6');
  ellipse(g, 1520, 972, 51, 85, YEL, 3.5, '10,6');
  ellipse(g, 1623, 957, 51, 93, BLUE, 3.5, '10,6');
  arrow(g, 1353, 432, 1581, 52, YEL, 3.5, 18, '12,7');
  arrow(g, 1574, 35, 1909, 180, ARED, 3, 18, '10,6');
}

// ================= PANEL C : 30 minutes =================
{
  const P = { x0: 0, x1: 1976, y0: 1158, y1: 2185, left: 46, hdr: 1196, sep: 1737, bot: 2149 };
  const g = svg.append('g').attr('clip-path', clip('pC', P.x0, P.y0, P.x1 - P.x0, P.y1 - P.y0));
  g.append('rect').attr('x', P.x0).attr('y', P.y0).attr('width', P.x1 - P.x0).attr('height', P.y1 - P.y0).attr('fill', '#000');
  const x = d3.scaleLinear().domain([0, m30Candles.length - 1]).range([52.6, 1973.2]);
  const yP = d3.scaleLinear().domain([11, 12]).range([1560.7, 1355.7]);
  const yM = d3.scaleLinear().domain([0, 0.2]).range([2015, 1860]);
  grid(g, m30PriceTicks, yP, P.left, P.x1);
  grid(g, m30MacdTicks, yM, P.left, P.x1);
  const gp = g.append('g').attr('clip-path', clip('pCp', P.left, P.hdr, P.x1 - P.left, P.sep - P.hdr));
  candles(gp, m30Candles, x, yP, 9);
  series(gp, m30MA125, x, yP, MAG, 2);
  series(gp, m30MA25, x, yP, OLIVE, 1.8);
  series(gp, idxPts(m30MA5), x, yP, WHITE, 1.4);
  const gm = g.append('g').attr('clip-path', clip('pCm', P.left, P.sep, P.x1 - P.left, P.bot - P.sep));
  hist(gm, m30Hist, x, yM, 1.7);
  series(gm, m30Dea, x, yM, OLIVE, 1.6);
  series(gm, idxPts(m30Diff), x, yM, WHITE, 1.4);
  hline(g, P.hdr, P.x0, P.x1, BORDER, 2);
  hline(g, P.sep, P.left, P.x1, BORDER, 2);
  hline(g, P.bot, P.left, P.x1, BORDER, 2);
  vline(g, P.left, P.hdr, P.bot, BORDER, 2);
  hline(g, P.y0 + 1.5, P.x0, P.x1, '#8a8a8a', 3);
  hline(g, P.y1 - 2, P.x0, P.x1, '#8a8a8a', 4);
  yLabels(g, yP, m30PriceTicks, 41, 20);
  yLabels(g, yM, m30MacdTicks, 41, 20);
  xLabels(g, x, m30TickIdx, m30TickLabels, 2166, 3.5, 20, 108);
  header(g, { y: 1182, dot: 14, name: [24, 78], r: 105, code: [120, 122], per: [265, 79, '30分钟∨'], px: [376, 53], chg: [458, 122] });
  legend(g, 1210, [[54, 239, 'MA组合(5,25,125,0,0,0)∨', LEGY], [306, 99, 'MA5 12.25', WHITE], [418, 111, 'MA25 11.92', LEGY], [541, 122, 'MA125 11.68', LEGM]]);
  legend(g, 1752, [[54, 160, 'MACD(12,26,9)∨', LEGY], [226, 86, 'DIFF 0.15', WHITE], [327, 82, 'DEA 0.11', LEGY], [432, 40, '0.07', WHITE]]);
  T(g, 985, 1267, '12.38', LBLR, 20, null, 'middle');
  T(g, 236, 1727, '10.26', LBLC, 20, null, 'middle');
  T(g, 1484, 1502, '11.35', LBLC, 20, null, 'middle');
  T(g, 1905, 1472, '11.50', LBLC, 20, null, 'middle');
  T(g, 46, 1723, '20天', LEGY, 20);
  // annotations
  ellipse(g, 391, 1618, 158, 117, ARED, 4);
  ellipse(g, 579, 1521, 59, 68, YEL, 4);
  ellipse(g, 677, 1432, 49, 124, BLUE, 4);
  arrow(g, 250, 1700, 695, 1343, YEL, 5, 30);
  arrow(g, 711, 1346, 1895, 1448, ARED, 7, 30);
  ellipse(g, 418, 2003, 116, 48, ARED, 4);
  ellipse(g, 590, 1996, 53, 56, YEL, 4);
  ellipse(g, 688, 1967, 49, 64, BLUE, 4);
}

// ================= cross-panel arrows & frame =================
{
  const g = svg.append('g');
  arrow(g, 330, 1027, 349, 1477, ARED, 6, 34, null, true);
  arrow(g, 397, 1030, 529, 1446, YEL, 6, 34, null, true);
  arrow(g, 469, 1049, 641, 1317, BLUE, 6, 32, null, true);
  g.append('rect').attr('x', 0.75).attr('y', 0.75).attr('width', W - 1.5).attr('height', 1154)
    .attr('fill', 'none').attr('stroke', '#7cc8c8').attr('stroke-width', 1.5);
}
</script></body></html>
